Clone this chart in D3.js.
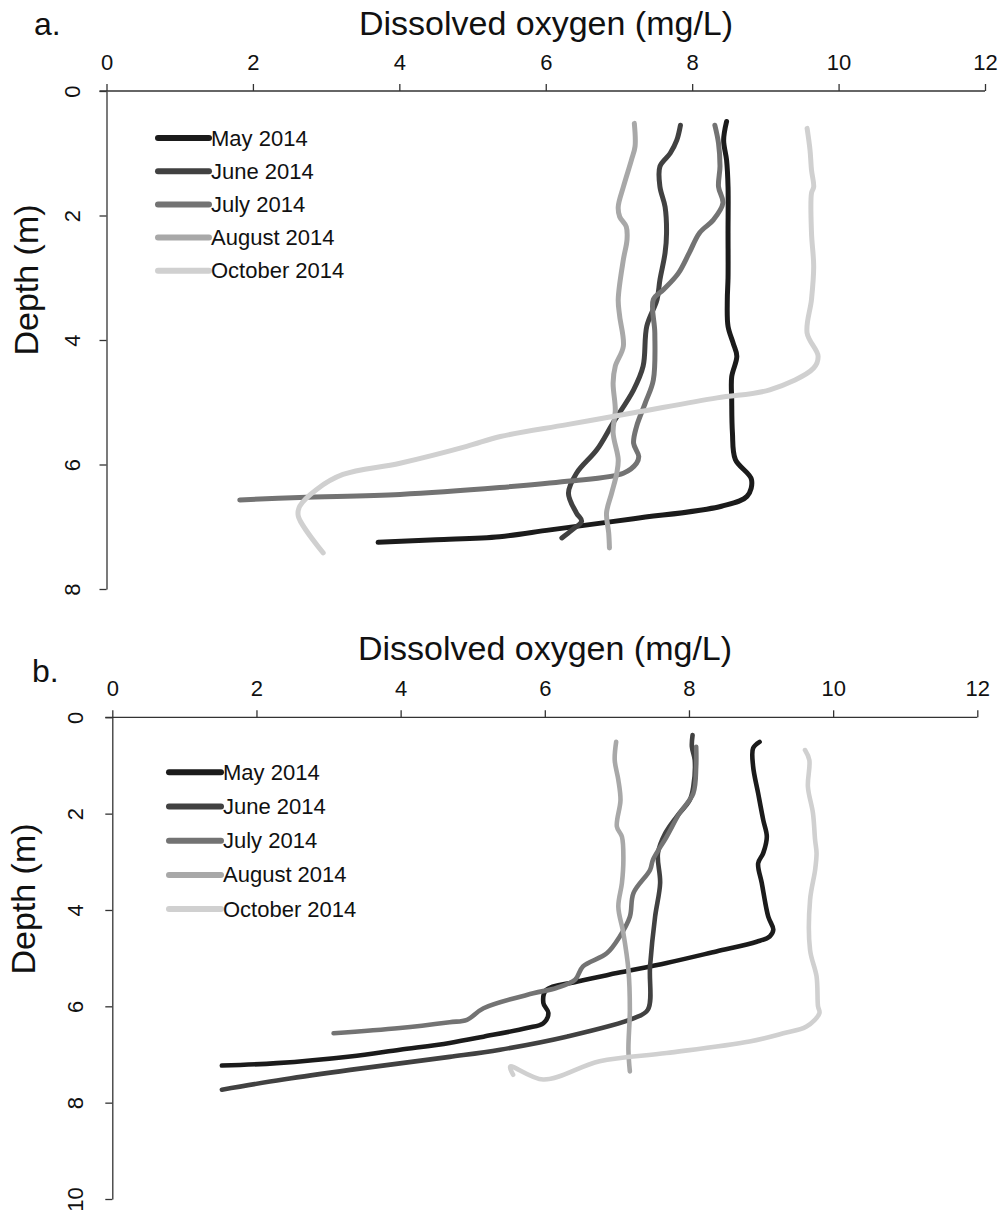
<!DOCTYPE html>
<html>
<head>
<meta charset="utf-8">
<script src="https://cdn.jsdelivr.net/npm/d3@7"></script>
<style>
  html, body { margin: 0; padding: 0; background: #fff; }
  svg { display: block; font-family: "Liberation Sans", Arial, sans-serif; }
</style>
</head>
<body>
<svg id="chart" width="1001" height="1211"></svg>
<script>
// ---- Data: [dissolved oxygen (mg/L), depth (m)] ----
const seriesNames = ["May 2014", "June 2014", "July 2014", "August 2014", "October 2014"];
const xTicks = [0, 2, 4, 6, 8, 10, 12];
const yTicksA = [0, 2, 4, 6, 8];
const yTicksB = [0, 2, 4, 6, 8, 10];

const mayA = [[8.47,0.49],[8.43,0.79],[8.47,1.11],[8.49,1.54],[8.49,2.28],[8.49,3.0],[8.48,3.35],[8.49,3.78],[8.56,4.05],[8.61,4.26],[8.54,4.59],[8.54,4.96],[8.55,5.49],[8.59,5.92],[8.81,6.24],[8.75,6.51],[8.40,6.67],[7.20,6.87],[6.06,7.05],[5.37,7.16],[4.50,7.21],[3.71,7.25]];
const juneA = [[7.84,0.55],[7.79,0.79],[7.70,1.0],[7.56,1.21],[7.56,1.54],[7.63,1.86],[7.65,2.28],[7.63,2.6],[7.56,3.03],[7.52,3.35],[7.38,3.78],[7.33,4.42],[7.20,4.80],[6.92,5.33],[6.70,5.76],[6.42,6.14],[6.31,6.46],[6.42,6.78],[6.49,6.91],[6.36,7.05],[6.22,7.18]];
const julyA = [[8.31,0.55],[8.36,0.84],[8.38,1.21],[8.36,1.54],[8.42,1.80],[8.29,2.07],[8.10,2.28],[7.96,2.6],[7.81,2.93],[7.61,3.19],[7.47,3.35],[7.49,3.89],[7.47,4.64],[7.36,5.01],[7.24,5.39],[7.20,5.66],[7.27,5.87],[7.24,5.98],[7.06,6.14],[6.29,6.27],[5.37,6.37],[4.01,6.48],[2.64,6.53],[1.82,6.57]];
const augustA = [[7.21,0.52],[7.22,0.89],[7.17,1.11],[7.06,1.54],[6.99,1.86],[7.01,2.02],[7.10,2.18],[7.11,2.39],[7.06,2.71],[6.99,3.35],[7.01,3.62],[7.06,4.10],[6.95,4.42],[6.92,4.69],[6.95,5.12],[6.92,5.49],[6.99,5.92],[6.97,6.14],[6.90,6.46],[6.83,6.78],[6.86,7.10],[6.87,7.34]];
const octoberA = [[9.57,0.60],[9.61,0.95],[9.63,1.27],[9.66,1.54],[9.63,1.64],[9.63,2.28],[9.66,2.82],[9.63,3.35],[9.57,3.89],[9.72,4.26],[9.66,4.45],[9.06,4.80],[8.34,4.93],[7.20,5.17],[6.29,5.36],[5.38,5.55],[4.92,5.71],[4.01,5.98],[3.23,6.16],[2.87,6.40],[2.64,6.67],[2.62,6.83],[2.96,7.42]];

const mayB = [[8.98,0.51],[8.89,0.64],[8.89,1.02],[8.96,1.58],[9.03,2.13],[9.08,2.48],[9.03,2.82],[8.96,3.03],[9.01,3.44],[9.10,4.14],[9.17,4.41],[9.12,4.55],[8.94,4.66],[8.38,4.86],[7.69,5.10],[7.00,5.31],[6.44,5.49],[6.02,5.66],[5.98,5.93],[6.05,6.14],[5.98,6.35],[5.75,6.45],[5.15,6.63],[4.68,6.76],[3.99,6.90],[3.30,7.04],[2.28,7.18],[1.52,7.23]];
const juneB = [[8.05,0.37],[8.04,0.61],[8.08,0.89],[8.06,1.44],[8.01,1.72],[7.83,2.06],[7.67,2.41],[7.57,2.82],[7.60,3.44],[7.53,4.14],[7.46,5.17],[7.43,6.07],[7.23,6.25],[6.30,6.63],[5.38,6.90],[4.68,7.05],[3.30,7.32],[2.37,7.52],[1.52,7.73]];
const julyB = [[8.10,0.61],[8.10,1.02],[8.06,1.58],[7.87,1.99],[7.69,2.48],[7.50,2.96],[7.46,3.17],[7.23,3.65],[7.18,4.14],[7.04,4.55],[6.86,4.90],[6.53,5.17],[6.42,5.45],[6.16,5.62],[5.84,5.73],[5.15,6.04],[4.92,6.28],[4.68,6.33],[3.99,6.45],[3.07,6.56]];
const augustB = [[6.99,0.51],[6.97,0.89],[7.02,1.30],[7.05,1.72],[7.00,2.27],[7.07,2.48],[7.09,2.96],[7.07,3.44],[7.02,3.93],[7.09,4.48],[7.16,5.24],[7.18,6.07],[7.16,6.90],[7.18,7.35]];
const octoberB = [[9.61,0.68],[9.67,0.89],[9.65,1.44],[9.72,1.99],[9.75,2.55],[9.77,2.82],[9.75,3.17],[9.68,3.79],[9.68,4.83],[9.77,5.38],[9.79,6.00],[9.81,6.14],[9.63,6.42],[9.31,6.56],[8.84,6.73],[7.69,6.97],[6.76,7.14],[5.98,7.52],[5.52,7.25],[5.56,7.42]];

// ---- Styling ----
const colors = ["#1b1b1b", "#414141", "#737373", "#a8a8a8", "#d0d0d0"];
const axisColor = "#333";
const FONT = "Liberation Sans, Arial, sans-serif";

const svg = d3.select("#chart");
svg.append("rect").attr("width", 1001).attr("height", 1211).attr("fill", "#fff");

function panel(cfg) {
  const x = d3.scaleLinear().domain([0, 12]).range([cfg.x0, cfg.x1]);
  const y = d3.scaleLinear().domain([0, cfg.yMax]).range([cfg.y0, cfg.y1]);
  const g = svg.append("g");

  // top x axis
  const xa = g.append("g").attr("transform", `translate(0,${cfg.y0})`)
    .call(d3.axisTop(x).tickValues(xTicks).tickSize(7).tickPadding(14).tickSizeOuter(0));
  xa.attr("font-size", 22).attr("font-family", FONT);
  xa.select(".domain").attr("stroke", axisColor).attr("stroke-width", 1.3)
    .attr("d", `M${cfg.x0 - 7},0H${cfg.x1}`);
  xa.selectAll(".tick line").attr("stroke", axisColor).attr("stroke-width", 1.3);
  xa.selectAll(".tick text").attr("font-size", 22).attr("fill", "#111");

  // left y axis
  const ya = g.append("g").attr("transform", `translate(${cfg.x0},0)`)
    .call(d3.axisLeft(y).tickValues(cfg.yTicks).tickSize(7).tickSizeOuter(0));
  ya.attr("font-size", 22).attr("font-family", FONT);
  ya.select(".domain").attr("stroke", axisColor).attr("stroke-width", 1.3);
  ya.selectAll(".tick line").attr("stroke", axisColor).attr("stroke-width", 1.3);
  ya.selectAll(".tick text")
    .attr("font-size", 22).attr("fill", "#111")
    .attr("text-anchor", "middle")
    .attr("x", 0).attr("y", cfg.yLabelOff).attr("dy", "0")
    .attr("transform", "rotate(-90)");

  // axis titles
  g.append("text").attr("x", cfg.titleX).attr("y", cfg.titleY)
    .attr("text-anchor", "middle").attr("font-size", 34).attr("fill", "#111")
    .text("Dissolved oxygen (mg/L)");
  g.append("text")
    .attr("transform", `translate(${cfg.depthX},${cfg.depthY}) rotate(-90)`)
    .attr("text-anchor", "middle").attr("font-size", 34).attr("fill", "#111")
    .text("Depth (m)");
  g.append("text").attr("x", cfg.tagX).attr("y", cfg.tagY)
    .attr("font-size", 32).attr("fill", "#111").text(cfg.tag);

  // lines
  const line = d3.line().x(d => x(d[0])).y(d => y(d[1])).curve(d3.curveCatmullRom.alpha(0.5));
  cfg.series.forEach((s, i) => {
    g.append("path").datum(s)
      .attr("d", line)
      .attr("fill", "none")
      .attr("stroke", colors[i])
      .attr("stroke-width", cfg.lw)
      .attr("stroke-linejoin", "round")
      .attr("stroke-linecap", "round");
  });

  // legend
  const lg = g.append("g");
  seriesNames.forEach((name, i) => {
    const ly = cfg.legY + i * cfg.legStep;
    lg.append("line").attr("x1", cfg.legX0).attr("x2", cfg.legX1)
      .attr("y1", ly).attr("y2", ly)
      .attr("stroke", colors[i]).attr("stroke-width", 6).attr("stroke-linecap", "round");
    lg.append("text").attr("x", cfg.legX1 + 2).attr("y", ly + 7.5)
      .attr("font-size", 22).attr("fill", "#111").text(name);
  });
}

panel({
  x0: 106.5, x1: 985, y0: 91, y1: 589, yMax: 8, yTicks: yTicksA, yLabelOff: -26.5,
  titleX: 546, titleY: 35, depthX: 38, depthY: 280, tag: "a.", tagX: 34, tagY: 35,
  series: [mayA, juneA, julyA, augustA, octoberA], lw: 5,
  legX0: 158, legX1: 209, legY: 138, legStep: 33.2
});

panel({
  x0: 112.3, x1: 977.3, y0: 717.3, y1: 1199, yMax: 10, yTicks: yTicksB, yLabelOff: -29,
  titleX: 545, titleY: 660, depthX: 35, depthY: 899, tag: "b.", tagX: 32, tagY: 682,
  series: [mayB, juneB, julyB, augustB, octoberB], lw: 4.6,
  legX0: 169, legX1: 221, legY: 772.3, legStep: 34.2
});
</script>
</body>
</html>
